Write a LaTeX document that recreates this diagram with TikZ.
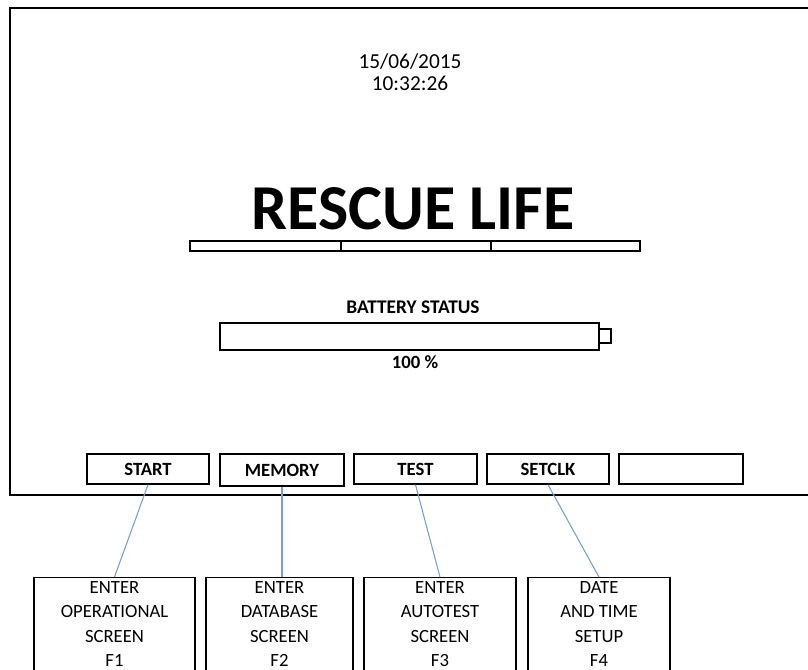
\documentclass[tikz,border=0pt]{standalone}
\usepackage{fontspec}
\setmainfont{Carlito}

\definecolor{linkblue}{RGB}{120,160,200}

\tikzset{every picture/.style={line width=0.75pt}}
\tikzset{
  keybox/.style={draw, line width=1.1pt, minimum height=22.5pt, inner sep=0pt, font=\fontsize{14}{16}\selectfont\bfseries},
  infobox/.style={draw, line width=0.9pt, anchor=north, align=center, inner xsep=0pt, inner ysep=3pt, font=\fontsize{14}{18.3}\selectfont},
  link/.style={draw=linkblue, line width=0.8pt}
}

\begin{document}
\begin{tikzpicture}[x=0.75pt,y=0.75pt,yscale=-1,xscale=1]
    \useasboundingbox (0,0) rectangle (808,670);
    \clip (0,0) rectangle (808,670);

    %Shape: Rectangle [screen frame]
    \draw [line width=1.5pt] (10,8) rectangle (830,495);

    % Text Node
    \node (datetime) at (410,72) [align=center, inner sep=0pt, font=\fontsize{16}{16.5}\selectfont] {15/06/2015\\10:32:26};
    % Text Node
    \node (title) at (413,230) [anchor=base, inner sep=0pt, font=\fontsize{48}{50}\selectfont\bfseries] {RESCUE LIFE};

    %Shape: Rectangle [title bar]
    \draw [line width=1pt] (190,241) rectangle (640,251);
    \draw [line width=1pt] (341,241) -- (341,251);
    \draw [line width=1pt] (491,241) -- (491,251);

    % Text Node
    \node (battlabel) at (413,307) [inner sep=0pt, font=\fontsize{14.5}{16}\selectfont\bfseries] {BATTERY STATUS};
    %Shape: Rectangle [battery]
    \draw [line width=1.1pt] (220,323) rectangle (599,350);
    \draw [line width=1.1pt] (599,329) rectangle (611,343);
    % Text Node
    \node (battlevel) at (415,362) [inner sep=0pt, font=\fontsize{14}{16}\selectfont\bfseries] {100 \%};

    % Key Nodes
    \node (start) at (148,469) [keybox, minimum width=91.5pt] {START};
    \node (memory) at (282,470) [keybox, minimum width=93pt, minimum height=24pt] {MEMORY};
    \node (test) at (415.5,469) [keybox, minimum width=92.25pt] {TEST};
    \node (setclk) at (548,469) [keybox, minimum width=91.5pt] {SETCLK};
    \node (spare) at (681,469) [keybox, minimum width=93pt] {};

    % Description Nodes
    \node (opscreen) at (114.5,577) [infobox, minimum width=120.75pt] {ENTER\\OPERATIONAL\\SCREEN\\F1};
    \node (dbscreen) at (279.5,577) [infobox, minimum width=110.25pt] {ENTER\\DATABASE\\SCREEN\\F2};
    \node (atscreen) at (440,577) [infobox, minimum width=114pt] {ENTER\\AUTOTEST\\SCREEN\\F3};
    \node (clksetup) at (599,577) [infobox, minimum width=106.5pt] {DATE\\AND TIME\\SETUP\\F4};

    %Straight Lines [links]
    \draw [link] (start.south) -- (opscreen.north);
    \draw [link] (memory.south) -- (memory.south |- dbscreen.north);
    \draw [link] (test.south) -- (atscreen.north);
    \draw [link] (setclk.south) -- (clksetup.north);

\end{tikzpicture}
\end{document}
